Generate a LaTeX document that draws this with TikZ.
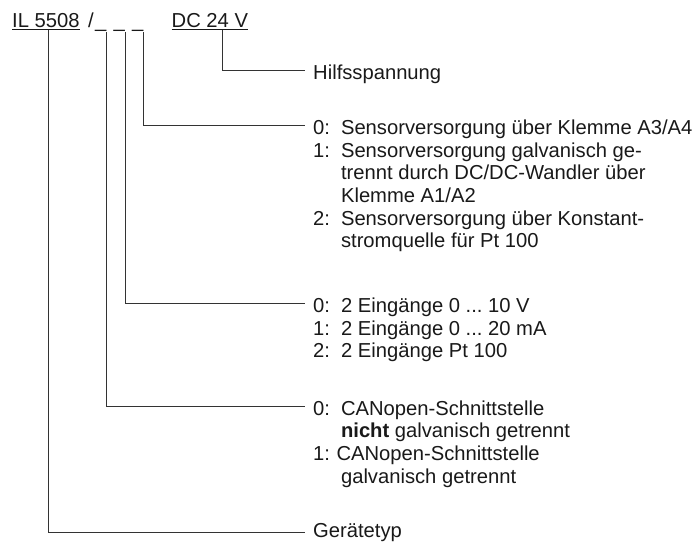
\documentclass[tikz,border=0pt]{standalone}
\usepackage{fontspec}
\setmainfont{Liberation Sans}
\usetikzlibrary{positioning, calc}
\frenchspacing

\begin{document}
\begin{tikzpicture}[x=1bp, y=-1bp,
        hdr/.style={inner sep=0pt, anchor=base west, text=black!90, font=\fontsize{20.2bp}{22.7bp}\selectfont},
        txt/.style={inner sep=0pt, anchor=base west, align=left, text=black!90, font=\fontsize{20.2bp}{22.7bp}\selectfont},
        line/.style={line width=1bp, draw=black!80},
        lead/.style={line, shorten >=8bp}
    ]
        \useasboundingbox (0,0) rectangle (697,542);

        % ----------------------------------------------------
        % ORDER CODE (Top Row)
        % ----------------------------------------------------
        \node[hdr] (type) at (12, 28) {\underline{IL 5508}};
        \node[hdr] (slash) at (88, 28) {/};
        \node[hdr] (k1) at (95, 28) {\_};
        \node[hdr] (k2) at (113.5, 28) {\_};
        \node[hdr] (k3) at (132, 28) {\_};
        \node[hdr] (dc) at (171.5, 28) {\underline{DC 24 V}};

        % ----------------------------------------------------
        % MEANINGS (Right Column)
        % ----------------------------------------------------
        \node[txt] (hilf) at (313, 80) {Hilfsspannung};

        \node[txt] (sens) at (313, 134.5) {\begin{tabular}[t]{@{}l@{\hspace{11bp}}l@{}}
            0: & Sensorversorgung über Klemme A3/A4\\
            1: & Sensorversorgung galvanisch ge-\\
               & trennt durch DC/DC-Wandler über\\
               & Klemme A1/A2\\
            2: & Sensorversorgung über Konstant-\\
               & stromquelle für Pt 100
        \end{tabular}};

        \node[txt] (inp) at (313, 312.5) {\begin{tabular}[t]{@{}l@{\hspace{11bp}}l@{}}
            0: & 2 Eingänge 0 ... 10 V\\
            1: & 2 Eingänge 0 ... 20 mA\\
            2: & 2 Eingänge Pt 100
        \end{tabular}};

        \node[txt] (can) at (313, 415) {\begin{tabular}[t]{@{}l@{\hspace{11bp}}l@{}}
            0: & CANopen-Schnittstelle\\
               & \textbf{nicht} galvanisch getrennt\\
            \multicolumn{2}{@{}l@{}}{1:\hspace{6.5bp}CANopen-Schnittstelle}\\
               & galvanisch getrennt
        \end{tabular}};

        \node[txt] (geraet) at (313, 537.5) {Gerätetyp};

        % ----------------------------------------------------
        % LEADER LINES
        % ----------------------------------------------------
        \draw[lead] ($(dc.south west)!.66!(dc.south east)$) |- ([yshift=9bp]hilf.base west);
        \draw[lead] (k3.south east) |- ([yshift=9bp]sens.base west);
        \draw[lead] (k2.south east) |- ([yshift=9bp]inp.base west);
        \draw[lead] (k1.south east) |- ([yshift=9bp]can.base west);
        \draw[lead] ([xshift=2.5bp]type.south) |- ([yshift=5bp]geraet.base west);

    \end{tikzpicture}
\end{document}
